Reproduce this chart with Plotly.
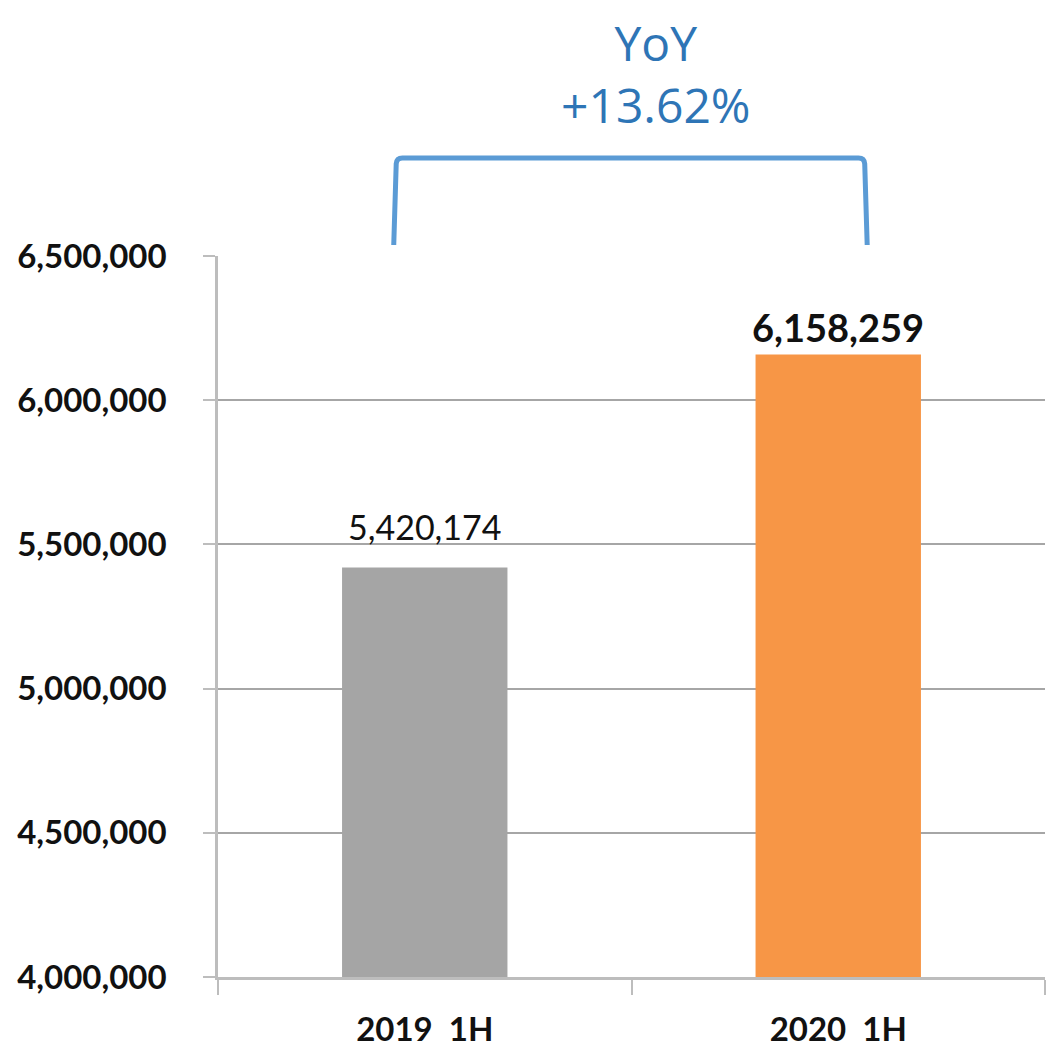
import plotly.graph_objects as go

categories = ["2019  1H", "2020  1H"]
values = [5420174, 6158259]
bar_colors = ["#A5A5A5", "#F79646"]
tick_vals = [4000000, 4500000, 5000000, 5500000, 6000000, 6500000]
tick_text = [f"{v:,}" for v in tick_vals]
yoy_text = "YoY<br>+13.62%"

fig = go.Figure()
fig.add_trace(go.Bar(
    x=categories, y=values, marker=dict(color=bar_colors, line=dict(width=0)),
    width=0.4, hoverinfo="skip",
))

# value labels above bars
label_styles = [
    dict(size=34, weight="normal", shift=41),
    dict(size=38, weight="bold", shift=28),
]
for cat, val, st in zip(categories, values, label_styles):
    fig.add_annotation(
        x=cat, y=val, text=f"{val:,}", showarrow=False,
        yanchor="middle", yshift=st["shift"],
        font=dict(family="Lato", size=st["size"], weight=st["weight"], color="#111111"),
    )

# page body has an 8px margin, so the figure is drawn 8px smaller
fig.update_layout(
    width=1050, height=1049,
    margin=dict(l=210, r=13, t=248, b=80),
    paper_bgcolor="white", plot_bgcolor="white",
    showlegend=False,
    font=dict(family="Lato", color="#111111"),
)
fig.update_yaxes(
    range=[4000000, 6500000], tickvals=tick_vals, ticktext=tick_text,
    tickfont=dict(family="Lato", size=33, weight="bold", color="#111111"),
    showgrid=True, gridcolor="#A6A6A6", gridwidth=1.5,
    showline=True, linecolor="#BDBDBD", linewidth=2.5,
    ticks="outside", ticklen=12, tickcolor="#BDBDBD", tickwidth=2,
    ticklabelstandoff=30, zeroline=False, automargin=False,
)
fig.update_xaxes(
    tickfont=dict(family="Lato", size=33, weight="bold", color="#111111"),
    showline=True, linecolor="#BDBDBD", linewidth=2.5,
    ticks="outside", ticklen=15, tickcolor="#BDBDBD", tickwidth=2,
    tickson="boundaries", ticklabelstandoff=22, automargin=False,
)

# YoY bracket
fig.add_shape(
    type="path", xref="paper", yref="paper",
    path="M 0.2125 1.0153 L 0.2155 1.128 Q 0.216 1.136 0.223 1.136 L 0.7745 1.136 Q 0.7815 1.136 0.782 1.128 L 0.785 1.0153",
    line=dict(color="#5B9BD5", width=5),
)
fig.add_annotation(
    xref="paper", yref="paper", x=0.53, y=1.3425, yanchor="top",
    text=yoy_text, showarrow=False, borderpad=0,
    font=dict(family="Open Sans", size=48, color="#2E75B6"),
)

fig.write_html("out.html")
